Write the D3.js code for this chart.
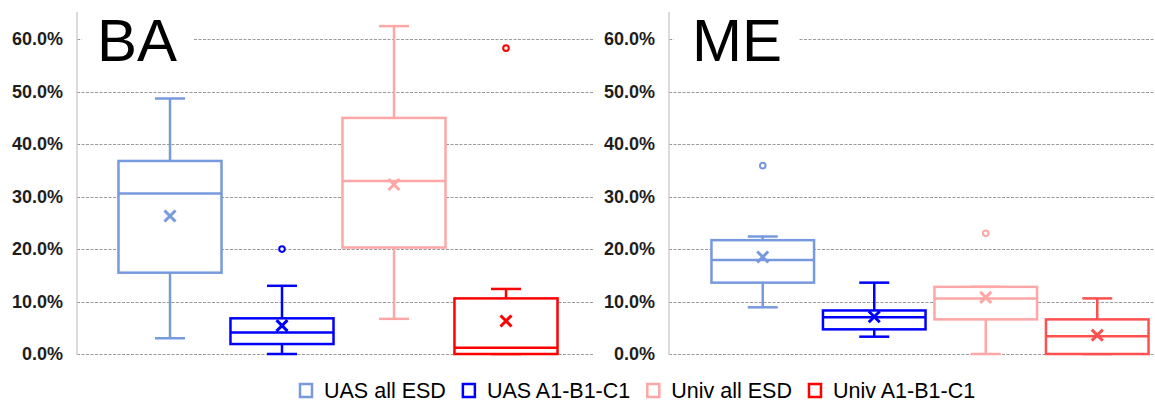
<!DOCTYPE html>
<html>
<head>
<meta charset="utf-8">
<script src="https://cdn.jsdelivr.net/npm/d3@7"></script>
<style>
  body { margin: 0; background: #fff; }
  text { font-family: "Liberation Sans", Arial, sans-serif; }
</style>
</head>
<body>
<div id="chart"></div>
<script>
// series / categories
var series = ["UAS all ESD", "UAS A1-B1-C1", "Univ all ESD", "Univ A1-B1-C1"];
var yTicks = [0, 0.1, 0.2, 0.3, 0.4, 0.5, 0.6];

// BA panel
var baMin    = [0.030, 0.000, 0.067, 0.000];
var baQ1     = [0.155, 0.019, 0.203, 0.000];
var baMedian = [0.306, 0.041, 0.330, 0.012];
var baQ3     = [0.368, 0.068, 0.450, 0.106];
var baMax    = [0.487, 0.130, 0.625, 0.124];
var baMean   = [0.263, 0.054, 0.323, 0.063];
var baOutliers = [[], [0.200], [], [0.583]];

// ME panel
var meMin    = [0.089, 0.033, 0.000, 0.000];
var meQ1     = [0.136, 0.047, 0.066, 0.000];
var meMedian = [0.179, 0.070, 0.106, 0.034];
var meQ3     = [0.217, 0.083, 0.128, 0.066];
var meMax    = [0.224, 0.136, 0.128, 0.106];
var meMean   = [0.185, 0.071, 0.108, 0.036];
var meOutliers = [[0.359], [], [0.230], []];

var colorsBA = ["#7799dd", "#0000ff", "#ffa6a6", "#ff0000"];
var colorsME = ["#7799dd", "#0000ff", "#ffa6a6", "#ff5050"];

var svgWidth = 1155;
var svgHeight = 405;

var svg = d3.select("#chart")
  .append("svg")
  .attr("width", svgWidth)
  .attr("height", svgHeight);

var y = d3.scaleLinear()
  .domain([0, 0.65])
  .range([354, 13]);

var panels = [
  {title: "BA", axisX: 77, right: 593, band: [114, 562], titleDx: 20,
   min: baMin, q1: baQ1, med: baMedian, q3: baQ3, max: baMax, mean: baMean, out: baOutliers, colors: colorsBA},
  {title: "ME", axisX: 669, right: 1155, band: [707, 1153], titleDx: 23,
   min: meMin, q1: meQ1, med: meMedian, q3: meQ3, max: meMax, mean: meMean, out: meOutliers, colors: colorsME}
];

panels.forEach(function(p) {
  var g = svg.append("g");

  // gridlines
  g.selectAll(".grid")
    .data(yTicks)
    .enter()
    .append("line")
    .attr("x1", p.axisX)
    .attr("x2", p.right)
    .attr("y1", d => Math.round(y(d)) + 0.5)
    .attr("y2", d => Math.round(y(d)) + 0.5)
    .attr("stroke", "#9a9a9a")
    .attr("stroke-width", 1)
    .attr("stroke-dasharray", "3,1.5");

  // y axis labels
  var axis = g.append("g")
    .attr("transform", `translate(${p.axisX}, 0)`)
    .call(d3.axisLeft(y).tickValues(yTicks).tickFormat(d3.format(".1%")).tickSize(0).tickPadding(14));
  axis.select(".domain").remove();
  axis.selectAll("text")
    .attr("font-family", "Liberation Sans, Arial, sans-serif")
    .attr("font-size", 18)
    .attr("font-weight", "bold")
    .attr("fill", "#1e1e1e");

  // axis line
  g.append("line")
    .attr("x1", p.axisX).attr("x2", p.axisX)
    .attr("y1", 12).attr("y2", 355)
    .attr("stroke", "#cfcfcf")
    .attr("stroke-width", 1.5);

  // title with white box
  var titleBox = g.append("rect").attr("fill", "#fff");
  var title = g.append("text")
    .attr("x", p.axisX + p.titleDx)
    .attr("y", 61)
    .attr("font-size", 60)
    .attr("fill", "#000")
    .text(p.title);
  var bb = title.node().getBBox();
  titleBox.attr("x", p.axisX + 5)
    .attr("y", bb.y)
    .attr("width", bb.x + bb.width + 17 - (p.axisX + 5))
    .attr("height", bb.height);

  var x = d3.scaleBand()
    .domain(series)
    .range(p.band)
    .paddingInner(0.08)
    .paddingOuter(0.04);

  var bw = x.bandwidth();
  var capW = 30;

  series.forEach(function(s, i) {
    var c = p.colors[i];
    var cx = x(s) + bw / 2;
    var bg = g.append("g")
      .attr("fill", "none")
      .attr("stroke", c)
      .attr("stroke-width", 2.5);

    // whiskers
    bg.append("line").attr("x1", cx).attr("x2", cx).attr("y1", y(p.q3[i])).attr("y2", y(p.max[i]));
    bg.append("line").attr("x1", cx).attr("x2", cx).attr("y1", y(p.q1[i])).attr("y2", y(p.min[i]));
    bg.append("line").attr("x1", cx - capW / 2).attr("x2", cx + capW / 2).attr("y1", y(p.max[i])).attr("y2", y(p.max[i]));
    bg.append("line").attr("x1", cx - capW / 2).attr("x2", cx + capW / 2).attr("y1", y(p.min[i])).attr("y2", y(p.min[i]));

    // box
    bg.append("rect")
      .attr("x", x(s))
      .attr("y", y(p.q3[i]))
      .attr("width", bw)
      .attr("height", y(p.q1[i]) - y(p.q3[i]))
      .attr("fill", "#fff");
    bg.append("line")
      .attr("x1", x(s)).attr("x2", x(s) + bw)
      .attr("y1", y(p.med[i])).attr("y2", y(p.med[i]));

    // mean marker
    var my = y(p.mean[i]), h = 5.5;
    bg.append("path")
      .attr("d", `M${cx - h},${my - h}L${cx + h},${my + h}M${cx - h},${my + h}L${cx + h},${my - h}`)
      .attr("stroke-width", 3);

    // outliers
    bg.selectAll("circle")
      .data(p.out[i])
      .enter()
      .append("circle")
      .attr("cx", cx)
      .attr("cy", d => y(d))
      .attr("r", 2.8)
      .attr("fill", "#fff")
      .attr("stroke-width", 2);
  });
});

// legend
var legend = svg.append("g").attr("transform", "translate(299, 383)");
var lx = 0;
series.forEach(function(s, i) {
  var item = legend.append("g").attr("transform", `translate(${lx}, 0)`);
  item.append("rect")
    .attr("x", 1).attr("y", 1)
    .attr("width", 12).attr("height", 13)
    .attr("fill", "none")
    .attr("stroke", colorsBA[i])
    .attr("stroke-width", 2.5);
  var t = item.append("text")
    .attr("x", 25)
    .attr("y", 15)
    .attr("font-size", 21.5)
    .attr("fill", "#000")
    .text(s);
  lx += 25 + t.node().getComputedTextLength() + 16;
});
</script>
</body>
</html>
